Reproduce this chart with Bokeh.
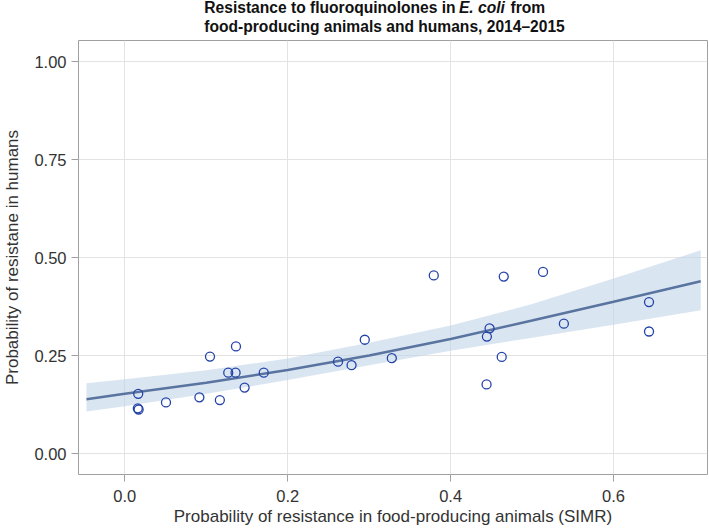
from bokeh.plotting import figure
from bokeh.models import FixedTicker, NumeralTickFormatter, Range1d
from bokeh.layouts import column
from bokeh.core.properties import value
from bokeh.embed import file_html
from bokeh.resources import INLINE

# observed data (animal resistance SIMR vs human resistance)
animal_x = [0.0165, 0.016, 0.017, 0.0506, 0.0916, 0.1046, 0.1167, 0.127, 0.1365, 0.136,
            0.1471, 0.1706, 0.2618, 0.2784, 0.2946, 0.3278, 0.3793, 0.4441, 0.4445, 0.4478,
            0.4627, 0.4652, 0.5134, 0.539, 0.6435, 0.6435]
human_y = [0.153, 0.116, 0.113, 0.131, 0.144, 0.248, 0.137, 0.207, 0.274, 0.207,
           0.169, 0.207, 0.235, 0.226, 0.291, 0.244, 0.455, 0.177, 0.299, 0.320,
           0.247, 0.452, 0.464, 0.332, 0.387, 0.312]

# fitted curve and confidence band
fit_x = [-0.047, 0.0, 0.1, 0.2, 0.3, 0.4, 0.5, 0.6, 0.707]
fit_y = [0.139, 0.153, 0.181, 0.214, 0.251, 0.293, 0.340, 0.388, 0.440]
fit_lo = [0.108, 0.121, 0.153, 0.188, 0.226, 0.263, 0.296, 0.329, 0.366]
fit_hi = [0.180, 0.190, 0.213, 0.243, 0.283, 0.327, 0.382, 0.447, 0.519]

x_ticks = [0.0, 0.2, 0.4, 0.6]
y_ticks = [0.0, 0.25, 0.5, 0.75, 1.0]

title_line1 = ["Resistance to fluoroquinolones in", "E. coli", "from"]
title_line2 = "food-producing animals and humans, 2014\u20132015"

FONT = "Liberation Sans"
X0, X1 = -0.0568, 0.7153
Y0, Y1 = -0.0528, 1.0543
W = 709
TH = 37
BL, BR = 72, 2

# ---------- title strip (frame aligned with the main plot, 1 unit = 1 px) ----------
t = figure(width=W, height=TH, output_backend="svg", toolbar_location=None,
           x_range=Range1d(BL, W - BR), y_range=Range1d(0, TH),
           x_axis_type=None, y_axis_type=None,
           min_border_left=BL, min_border_right=BR, min_border_top=0, min_border_bottom=0)
t.outline_line_color = None
t.grid.visible = False
t.background_fill_color = "white"
t.border_fill_color = "white"

TS = 15.6
left = 199
space = 278 * TS / 1000.0
w_lead = 15914 * TS / 1000.0
w_ital = 2668 * TS / 1000.0
x_ital = left + w_lead + space + 4.5
x_from = x_ital + w_ital + space + 6
SHIFT = 6.0
y1 = TH - 13.0 + SHIFT
y2 = TH - 32.0 + SHIFT
common = dict(text_font=value(FONT), text_font_size=f"{TS}px", text_color="#111111",
              text_align="left", text_baseline="alphabetic")
t.text(x=[left, x_from, left], y=[y1, y1, y2],
       text=[title_line1[0], title_line1[2], title_line2], text_font_style="bold", **common)
t.text(x=[x_ital], y=[y1], text=[title_line1[1]],
       text_font_style="bold italic", **common)

# ---------- main plot ----------
p = figure(width=W, height=530 - TH, output_backend="svg", toolbar_location=None,
           x_range=Range1d(X0, X1), y_range=Range1d(Y0, Y1),
           min_border_left=BL, min_border_right=BR, min_border_top=3, min_border_bottom=56)
p.background_fill_color = "white"
p.border_fill_color = "white"
p.outline_line_color = "#a0a0a0"
p.outline_line_width = 1

p.varea(x=fit_x, y1=fit_lo, y2=fit_hi, fill_color="#c2d3ea", fill_alpha=0.6)
p.line(fit_x, fit_y, line_color="#5a74a0", line_width=2.5)
p.scatter(animal_x, human_y, marker="circle", size=9, fill_color=None,
          line_color="#2443a8", line_width=1.3)

for ax in (p.xaxis[0], p.yaxis[0]):
    ax.axis_line_color = None
    ax.major_tick_line_color = "#a0a0a0"
    ax.major_tick_out = 7
    ax.major_tick_in = 0
    ax.minor_tick_line_color = None
    ax.major_label_text_font = FONT
    ax.major_label_text_font_size = "16.5px"
    ax.major_label_text_color = "#333333"
    ax.axis_label_text_font = FONT
    ax.axis_label_text_font_size = "17px"
    ax.axis_label_text_font_style = "normal"
    ax.axis_label_text_color = "#333333"

p.xaxis[0].major_label_standoff = 8
p.xaxis[0].axis_label_standoff = 2
p.yaxis[0].major_label_standoff = 5
p.yaxis[0].axis_label_standoff = 9

p.xaxis[0].ticker = FixedTicker(ticks=x_ticks)
p.xaxis[0].formatter = NumeralTickFormatter(format="0.0")
p.yaxis[0].ticker = FixedTicker(ticks=y_ticks)
p.yaxis[0].formatter = NumeralTickFormatter(format="0.00")
p.xaxis[0].axis_label = "Probability of resistance in food-producing animals (SIMR)"
p.yaxis[0].axis_label = "Probability of resistane in humans"

p.xgrid.grid_line_color = "#e3e3e3"
p.ygrid.grid_line_color = "#e3e3e3"

layout = column(t, p, spacing=0)
open("out.html", "w").write(file_html(layout, INLINE))
